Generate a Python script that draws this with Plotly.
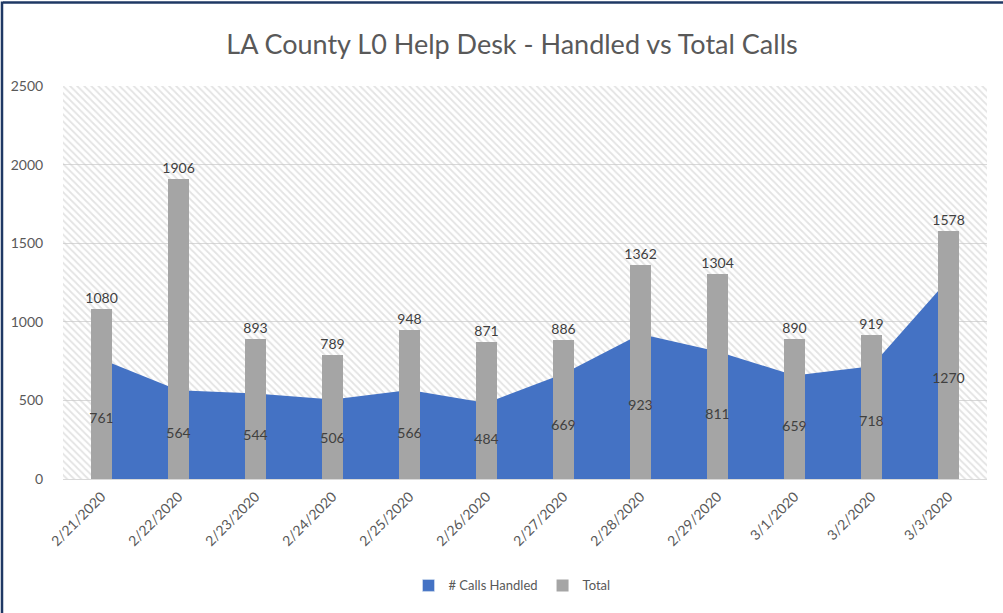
import plotly.graph_objects as go

dates = ["2/21/2020", "2/22/2020", "2/23/2020", "2/24/2020", "2/25/2020", "2/26/2020",
         "2/27/2020", "2/28/2020", "2/29/2020", "3/1/2020", "3/2/2020", "3/3/2020"]
handled = [761, 564, 544, 506, 566, 484, 669, 923, 811, 659, 718, 1270]
total = [1080, 1906, 893, 789, 948, 871, 886, 1362, 1304, 890, 919, 1578]
y_ticks = [0, 500, 1000, 1500, 2000, 2500]

FONT = "Lato"
TXT = "#595959"
LBL = "#404040"
BLUE = "#4472C4"
GRAY = "#A5A5A5"

idx = list(range(len(dates)))
x_lo, x_hi = -0.5, len(dates) - 0.5
y_hi = y_ticks[-1]

fig = go.Figure()

# hatched plot-area background
fig.add_trace(go.Scatter(
    x=[x_lo, x_hi, x_hi, x_lo, x_lo], y=[0, 0, y_hi, y_hi, 0],
    mode="lines", line=dict(width=0), fill="toself",
    fillcolor="rgba(0,0,0,0)",
    fillpattern=dict(shape="\\", fgcolor="#C8C8C8", bgcolor="rgba(255,255,255,0)",
                     size=5, solidity=0.35),
    hoverinfo="skip", showlegend=False, xaxis="x", yaxis="y"))

# area: handled
fig.add_trace(go.Scatter(
    x=idx, y=handled, name="# Calls Handled", mode="lines",
    line=dict(width=0, color=BLUE), fill="tozeroy", fillcolor=BLUE,
    showlegend=False, xaxis="x", yaxis="y"))

# legend proxy for the area (square swatch)
fig.add_trace(go.Bar(
    x=[None], y=[None], name="# Calls Handled", marker=dict(color=BLUE),
    xaxis="x", yaxis="y2"))

# bars: total
fig.add_trace(go.Bar(
    x=idx, y=total, name="Total", marker=dict(color=GRAY, line=dict(width=0)),
    width=0.285, text=[str(v) for v in total], textposition="outside",
    constraintext="none", textangle=0,
    textfont=dict(family=FONT, size=14, color=LBL), cliponaxis=False,
    xaxis="x", yaxis="y2"))

# handled labels (centered in area)
fig.add_trace(go.Scatter(
    x=idx, y=[v / 2 for v in handled], mode="text",
    text=[str(v) for v in handled], textposition="middle center",
    textfont=dict(family=FONT, size=14, color=LBL),
    showlegend=False, hoverinfo="skip", xaxis="x", yaxis="y2"))

L, R, T, B = 63, 16, 86, 132
W, H = 1003, 613
pw, ph = W - L - R, H - T - B

fig.update_layout(
    width=W, height=H,
    margin=dict(l=L, r=R, t=T, b=B, pad=0),
    paper_bgcolor="white", plot_bgcolor="white",
    font=dict(family=FONT, color=TXT, size=13),
    title=dict(text="LA County L0 Help Desk - Handled vs Total Calls",
               x=512 / W, xanchor="center", xref="container",
               y=1 - 45 / H, yanchor="middle", yref="container",
               font=dict(family=FONT, size=27, color=TXT)),
    xaxis=dict(range=[x_lo, x_hi], tickvals=idx, ticktext=dates, tickangle=-45,
               showgrid=False, zeroline=False, showline=False,
               ticks="outside", ticklen=3, tickcolor="rgba(0,0,0,0)",
               tickfont=dict(family=FONT, size=14, color=TXT)),
    yaxis=dict(range=[0, y_hi], tickvals=y_ticks, showgrid=True, gridcolor="#D9D9D9",
               gridwidth=1, zeroline=True, zerolinecolor="#D9D9D9", zerolinewidth=1,
               ticks="outside", ticklen=16, tickcolor="rgba(0,0,0,0)",
               tickfont=dict(family=FONT, size=14, color=TXT)),
    yaxis2=dict(range=[0, y_hi], overlaying="y", visible=False),
    bargap=0, barmode="overlay",
    legend=dict(orientation="h", x=(512 - L) / pw, xanchor="center",
                y=(T + ph - 588) / ph, yanchor="middle",
                font=dict(family=FONT, size=13, color=TXT), traceorder="normal"),
    shapes=[
        dict(type="line", xref="paper", yref="paper",
             x0=(3 - L) / pw, x1=(W + 5 - L) / pw,
             y0=1 + (T - 2) / ph, y1=1 + (T - 2) / ph,
             line=dict(color="#1F3864", width=2.5)),
        dict(type="line", xref="paper", yref="paper",
             x0=(2 - L) / pw, x1=(2 - L) / pw,
             y0=1 + (T - 1) / ph, y1=-(B + 5) / ph,
             line=dict(color="#1F3864", width=2.5)),
    ],
)

fig.write_html("out.html", config={"displayModeBar": False},
               post_script="document.body.style.margin='0';document.body.style.overflow='hidden';")
